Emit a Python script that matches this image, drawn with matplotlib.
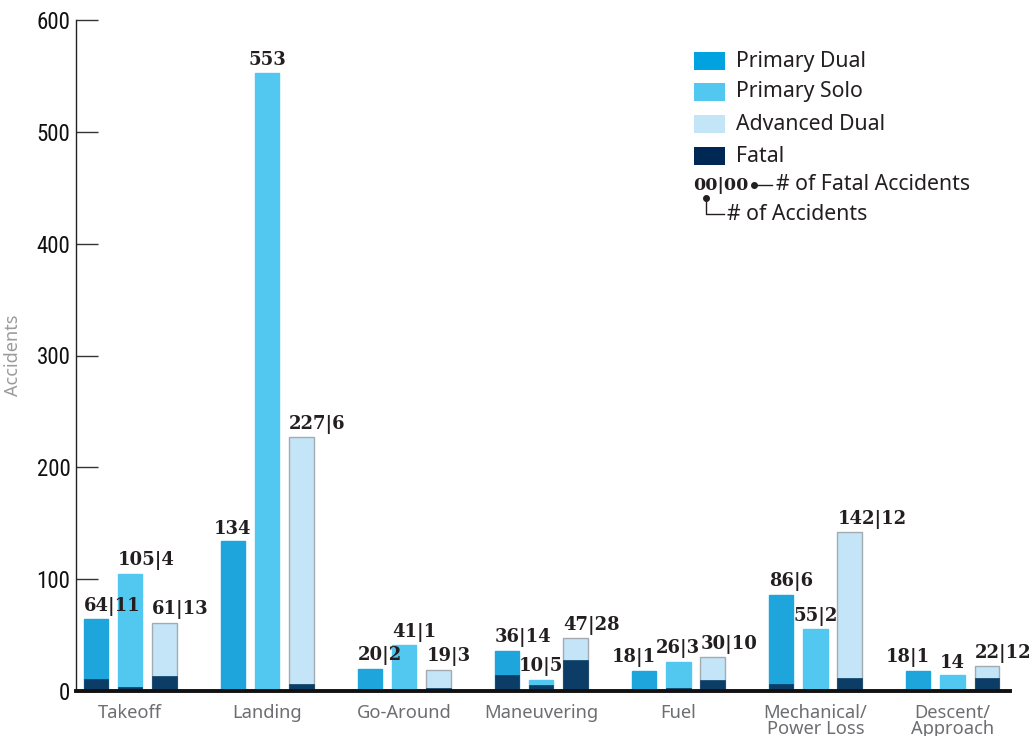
import matplotlib
matplotlib.use("Agg")
import matplotlib.pyplot as plt
from matplotlib.patches import Rectangle
from matplotlib.lines import Line2D
import numpy as np

categories = ["Takeoff", "Landing", "Go-Around", "Maneuvering", "Fuel",
              "Mechanical/\nPower Loss", "Descent/\nApproach"]
series = ["Primary Dual", "Primary Solo", "Advanced Dual"]
primary_dual = [64, 134, 20, 36, 18, 86, 18]
primary_solo = [105, 553, 41, 10, 26, 55, 14]
advanced_dual = [61, 227, 19, 47, 30, 142, 22]
fatal_primary_dual = [11, 0, 2, 14, 1, 6, 1]
fatal_primary_solo = [4, 0, 1, 5, 3, 2, 0]
fatal_advanced_dual = [13, 6, 3, 28, 10, 12, 12]
yticks = [0, 100, 200, 300, 400, 500, 600]

# label alignment relative to bar (style only)
label_align = [
    ["left", "left", "left"],
    ["center", "center", "left"],
    ["left", "left", "left"],
    ["left", "center", "left"],
    ["right", "center", "left"],
    ["left", "center", "left"],
    ["right", "center", "left"],
]

narrow = ["Liberation Sans Narrow", "Roboto Condensed", "Liberation Sans"]
sans = "Noto Sans"
serif = "DejaVu Serif"

W, H = 1035, 736
fig = plt.figure(figsize=(W / 100, H / 100), dpi=100)
ax = fig.add_axes([76 / W, 1 - 691 / H, (1010 - 76) / W, (691 - 20) / H])

colors = ["#1EA6DC", "#52C8F0", "#C3E5F7"]
edges = ["#1EA6DC", "#52C8F0", "#A3AAB0"]
fatal_color = "#0C3D66"
totals = [primary_dual, primary_solo, advanced_dual]
fatals = [fatal_primary_dual, fatal_primary_solo, fatal_advanced_dual]

x = np.arange(len(categories))
offsets = [-0.25, 0.0, 0.25]
bw = 0.178

for s in range(3):
    xs = x + offsets[s]
    ax.bar(xs, totals[s], width=bw, color=colors[s], edgecolor=edges[s],
           linewidth=1.0, zorder=2)
    ax.bar(xs, fatals[s], width=bw, color=fatal_color, edgecolor=fatal_color,
           linewidth=0.5, zorder=3)
    for i in range(len(categories)):
        t = totals[s][i]
        f = fatals[s][i]
        txt = f"{t}|{f}" if f > 0 else f"{t}"
        al = label_align[i][s]
        if al == "left":
            tx = xs[i] - bw / 2
        elif al == "right":
            tx = xs[i] + bw / 2
        else:
            tx = xs[i]
        ax.annotate(txt, (tx, t), xytext=(0, 2.5), textcoords="offset points",
                    ha=al, va="bottom", fontsize=13, fontweight="bold",
                    family=serif, color="#231F20", zorder=5)

ax.set_xlim(-0.395, 6.42)
ax.set_ylim(0, 600)
ax.set_yticks(yticks)
ax.set_yticklabels([str(v) for v in yticks], family=narrow, fontsize=16.5,
                   color="#111111")
ax.tick_params(axis="y", direction="in", length=16, width=1, color="#333333",
               pad=4)
ax.set_xticks(x)
ax.set_xticklabels(categories, family=sans, fontsize=13.2, color="#6D6E71",
                   linespacing=0.9, va="top")
ax.tick_params(axis="x", length=0, pad=9)
for sp in ["top", "right"]:
    ax.spines[sp].set_visible(False)
ax.spines["left"].set_linewidth(1.0)
ax.spines["left"].set_color("#222222")
ax.spines["bottom"].set_linewidth(2.8)
ax.spines["bottom"].set_color("#111111")
ax.spines["bottom"].set_zorder(6)
ax.set_ylabel("Accidents", family=sans, fontsize=13, color="#9B9B9B")
ax.yaxis.set_label_coords(-0.058, 0.5)


def fx(px):
    return px / W


def fy(py):
    return 1 - py / H


# Legend
leg_colors = ["#00A3E0", "#52C8F0", "#C3E5F7", "#002855"]
leg_labels = series + ["Fatal"]
leg_y = [61, 92, 124, 156]
for c, lab, yy in zip(leg_colors, leg_labels, leg_y):
    fig.add_artist(Rectangle((fx(694), fy(yy + 9)), 31 / W, 18 / H,
                             transform=fig.transFigure, facecolor=c,
                             edgecolor="none"))
    fig.text(fx(736), fy(yy), lab, family=sans, fontsize=15.3,
             color="#231F20", va="center", ha="left")

fig.text(fx(693), fy(185), "00|00", family=serif, fontweight="bold",
         fontsize=12.5, color="#231F20", va="center", ha="left")
fig.add_artist(Line2D([fx(754), fx(772)], [fy(185), fy(185)],
                      transform=fig.transFigure, color="#231F20", lw=1))
fig.add_artist(Line2D([fx(754)], [fy(185)], transform=fig.transFigure,
                      marker="o", markersize=4, color="#231F20"))
fig.text(fx(776), fy(185), "# of Fatal Accidents", family=sans, fontsize=15.3,
         color="#231F20", va="center", ha="left")
fig.add_artist(Line2D([fx(706)], [fy(198)], transform=fig.transFigure,
                      marker="o", markersize=4, color="#231F20"))
fig.add_artist(Line2D([fx(706), fx(706), fx(724)], [fy(198), fy(214), fy(214)],
                      transform=fig.transFigure, color="#231F20", lw=1))
fig.text(fx(727), fy(214), "# of Accidents", family=sans, fontsize=15.3,
         color="#231F20", va="center", ha="left")

fig.savefig("out.png", dpi=100)
